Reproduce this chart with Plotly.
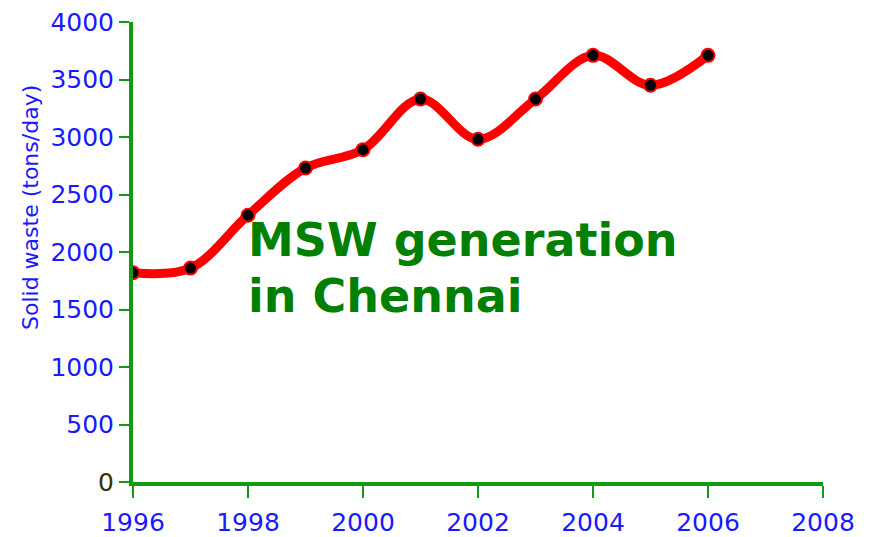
import plotly.graph_objects as go

years = [1996, 1997, 1998, 1999, 2000, 2001, 2002, 2003, 2004, 2005, 2006]
waste = [1820, 1860, 2320, 2730, 2890, 3330, 2980, 3330, 3710, 3450, 3710]

y_ticks = [0, 500, 1000, 1500, 2000, 2500, 3000, 3500, 4000]
y_tick_labels = ["<span style='color:#333300'>0</span>", "500", "1000", "1500", "2000",
                 "2500", "3000", "3500", "4000"]
x_ticks = [1996, 1998, 2000, 2002, 2004, 2006, 2008]
x_tick_labels = ["1996", "1998", "2000", "2002", "2004", "2006", "2008"]

blue = "#1a1aff"
green_axis = "#139a13"

fig = go.Figure()
fig.add_trace(go.Scatter(
    x=years, y=waste, mode="lines+markers",
    line=dict(color="#ff0000", width=9, shape="spline", smoothing=1.0),
    marker=dict(color="#000000", size=13, line=dict(color="#ff0000", width=2)),
    showlegend=False,
))

fig.add_annotation(text="<b>MSW generation</b>", xref="paper", yref="paper",
                   x=(246 - 133) / 690, y=(482 - 240) / 460, xanchor="left", yanchor="middle",
                   showarrow=False, font=dict(family="DejaVu Sans", size=46, color="#008000"))
fig.add_annotation(text="<b>in Chennai</b>", xref="paper", yref="paper",
                   x=(246 - 133) / 690, y=(482 - 296) / 460, xanchor="left", yanchor="middle",
                   showarrow=False, font=dict(family="DejaVu Sans", size=46, color="#008000"))
fig.add_annotation(text="Solid waste (tons/day)", xref="paper", yref="paper",
                   x=(30 - 133) / 690, y=(482 - 208) / 460, xanchor="center", yanchor="middle",
                   textangle=-90, showarrow=False,
                   font=dict(family="DejaVu Sans", size=22, color=blue))

# page has an 8px body margin, so the figure is offset by (8, 8)
fig.update_layout(
    width=866, height=529,
    margin=dict(l=125, r=51, t=14, b=55),
    paper_bgcolor="white", plot_bgcolor="white",
    font=dict(family="DejaVu Sans", color=blue),
    xaxis=dict(range=[1996, 2008], tickvals=x_ticks, ticktext=x_tick_labels, automargin=False,
               showgrid=False, zeroline=False, showline=True, linecolor=green_axis, linewidth=4,
               ticks="outside", ticklen=12, tickwidth=2, tickcolor=green_axis,
               tickfont=dict(size=25, color=blue), ticklabelstandoff=3,
               ticklabeloverflow="allow"),
    yaxis=dict(range=[0, 4000], tickvals=y_ticks, ticktext=y_tick_labels, automargin=False,
               showgrid=False, zeroline=False, showline=True, linecolor=green_axis, linewidth=4,
               ticks="outside", ticklen=10, tickwidth=2, tickcolor=green_axis,
               tickfont=dict(size=25, color=blue), ticklabeloverflow="allow"),
)

fig.write_html("out.html")
